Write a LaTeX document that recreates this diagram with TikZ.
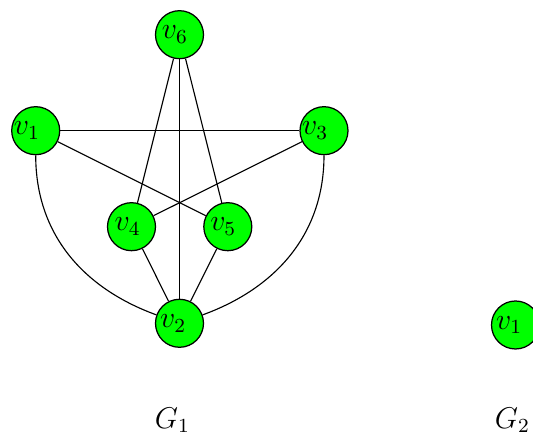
\documentclass[tikz,border=0pt]{standalone}
\newcommand{\vlab}[2]{\raisebox{-1pt}{$#1$}\kern#2}
\begin{document}
\begin{tikzpicture}[x=0.4pt,y=-0.4pt,
  vtx/.style={circle,draw=black,fill=green,minimum size=19.2pt,inner sep=0pt,line width=0.5pt,font=\large},
  edge/.style={draw=black,line width=0.45pt},
  glabel/.style={anchor=base,inner sep=0pt,font=\large}]
\useasboundingbox (0,0) rectangle (533,437);
% G1 vertices
\node[vtx] (v6) at (179.5,34.7) {\vlab{v_6}{3.6pt}};
\node[vtx] (v1) at (35.7,130.7) {\vlab{v_1}{7pt}};
\node[vtx] (v3) at (324,130.7) {\vlab{v_3}{7pt}};
\node[vtx] (v4) at (131.5,226.7) {\vlab{v_4}{3pt}};
\node[vtx] (v5) at (227.8,226.7) {\vlab{v_5}{3.6pt}};
\node[vtx] (v2) at (179.5,323.3) {\vlab{v_2}{5pt}};
% G1 edges
\path[edge] (v1) -- (v3);
\path[edge] (v1) -- (v5);
\path[edge] (v3) -- (v4);
\path[edge] (v6) -- (v4);
\path[edge] (v6) -- (v2);
\path[edge] (v6) -- (v5);
\path[edge] (v4) -- (v2);
\path[edge] (v5) -- (v2);
\path[edge] (v1) to[out=-90,in=160] (v2);
\path[edge] (v3) to[out=-90,in=20] (v2);
% G2 vertex
\node[vtx] (w1) at (515.5,325) {\vlab{v_1}{5pt}};
% labels
\node[glabel] (g1) at (172.5,428.3) {$G_1$};
\node[glabel] (g2) at (512.5,428.3) {$G_2$};
\end{tikzpicture}
\end{document}
